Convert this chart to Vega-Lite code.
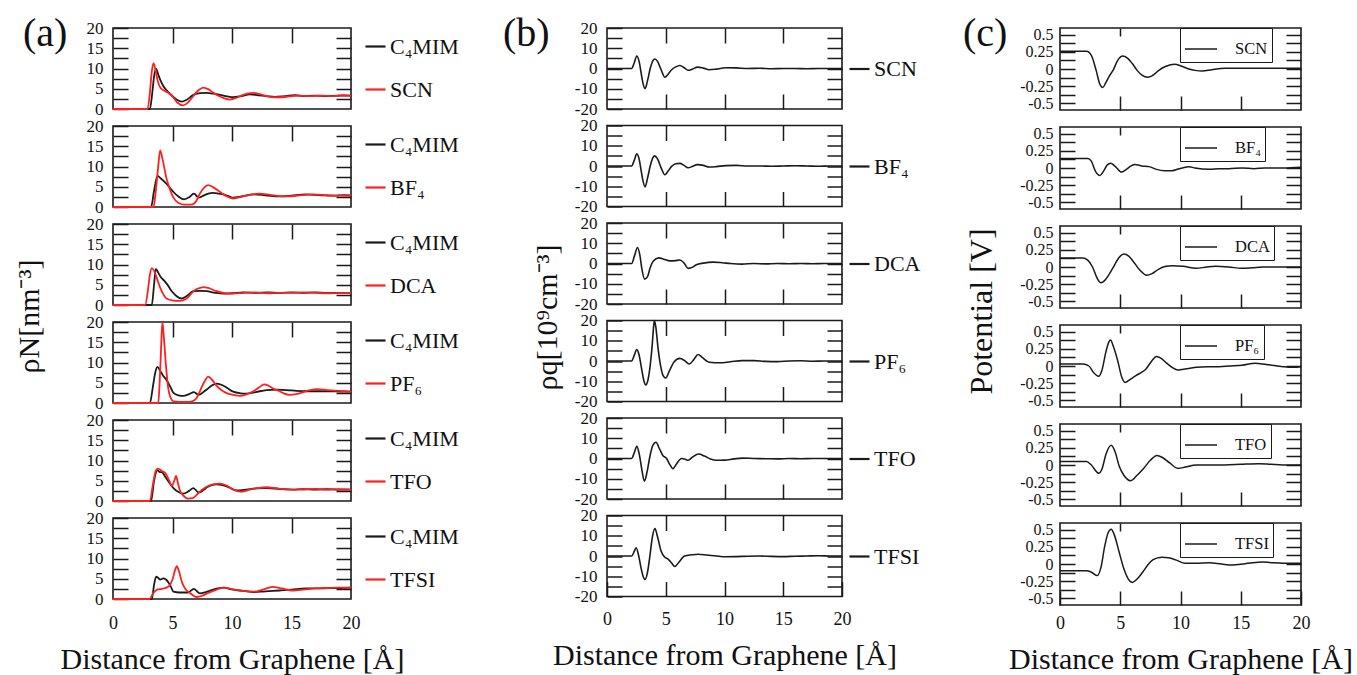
{
"$schema": "https://vega.github.io/schema/vega-lite/v6.json",
"padding": {"left": 13, "top": 13, "right": 0, "bottom": 0},
"datasets": {
"a": [
{"p":"SCN","k":"C₄MIM","x":0,"y":0},{"p":"SCN","k":"C₄MIM","x":3.1,"y":0},{"p":"SCN","k":"C₄MIM","x":3.3,"y":4},{"p":"SCN","k":"C₄MIM","x":3.45,"y":8},{"p":"SCN","k":"C₄MIM","x":3.63,"y":9.9},{"p":"SCN","k":"C₄MIM","x":3.8,"y":8.5},{"p":"SCN","k":"C₄MIM","x":4.0,"y":7.0},{"p":"SCN","k":"C₄MIM","x":4.24,"y":5.6},{"p":"SCN","k":"C₄MIM","x":4.6,"y":4.3},{"p":"SCN","k":"C₄MIM","x":5.08,"y":3.0},{"p":"SCN","k":"C₄MIM","x":5.4,"y":2.2},{"p":"SCN","k":"C₄MIM","x":5.77,"y":1.8},{"p":"SCN","k":"C₄MIM","x":6.2,"y":2.3},{"p":"SCN","k":"C₄MIM","x":6.75,"y":3.5},{"p":"SCN","k":"C₄MIM","x":7.3,"y":3.9},{"p":"SCN","k":"C₄MIM","x":7.87,"y":4.0},{"p":"SCN","k":"C₄MIM","x":8.4,"y":3.8},{"p":"SCN","k":"C₄MIM","x":9.0,"y":3.5},{"p":"SCN","k":"C₄MIM","x":9.6,"y":3.1},{"p":"SCN","k":"C₄MIM","x":10.1,"y":2.9},{"p":"SCN","k":"C₄MIM","x":10.8,"y":3.2},{"p":"SCN","k":"C₄MIM","x":11.5,"y":3.6},{"p":"SCN","k":"C₄MIM","x":12.2,"y":3.4},{"p":"SCN","k":"C₄MIM","x":12.9,"y":3.2},{"p":"SCN","k":"C₄MIM","x":13.6,"y":3.0},{"p":"SCN","k":"C₄MIM","x":14.5,"y":3.2},{"p":"SCN","k":"C₄MIM","x":15.3,"y":3.4},{"p":"SCN","k":"C₄MIM","x":16,"y":3.2},{"p":"SCN","k":"C₄MIM","x":17,"y":3.3},{"p":"SCN","k":"C₄MIM","x":18,"y":3.2},{"p":"SCN","k":"C₄MIM","x":19,"y":3.3},{"p":"SCN","k":"C₄MIM","x":20,"y":3.3},
{"p":"SCN","k":"SCN","x":0,"y":0},{"p":"SCN","k":"SCN","x":2.9,"y":0},{"p":"SCN","k":"SCN","x":3.1,"y":4},{"p":"SCN","k":"SCN","x":3.25,"y":9},{"p":"SCN","k":"SCN","x":3.4,"y":11.3},{"p":"SCN","k":"SCN","x":3.55,"y":10},{"p":"SCN","k":"SCN","x":3.75,"y":7},{"p":"SCN","k":"SCN","x":4.0,"y":5.2},{"p":"SCN","k":"SCN","x":4.4,"y":4.4},{"p":"SCN","k":"SCN","x":4.8,"y":3.7},{"p":"SCN","k":"SCN","x":5.08,"y":2.8},{"p":"SCN","k":"SCN","x":5.4,"y":1.6},{"p":"SCN","k":"SCN","x":5.9,"y":0.9},{"p":"SCN","k":"SCN","x":6.3,"y":1.6},{"p":"SCN","k":"SCN","x":6.75,"y":3.2},{"p":"SCN","k":"SCN","x":7.2,"y":4.7},{"p":"SCN","k":"SCN","x":7.6,"y":5.3},{"p":"SCN","k":"SCN","x":8.0,"y":4.9},{"p":"SCN","k":"SCN","x":8.4,"y":4.1},{"p":"SCN","k":"SCN","x":8.9,"y":3.2},{"p":"SCN","k":"SCN","x":9.3,"y":2.7},{"p":"SCN","k":"SCN","x":9.8,"y":2.3},{"p":"SCN","k":"SCN","x":10.3,"y":2.7},{"p":"SCN","k":"SCN","x":10.7,"y":3.2},{"p":"SCN","k":"SCN","x":11.3,"y":3.8},{"p":"SCN","k":"SCN","x":11.8,"y":4.0},{"p":"SCN","k":"SCN","x":12.4,"y":3.6},{"p":"SCN","k":"SCN","x":12.9,"y":3.2},{"p":"SCN","k":"SCN","x":13.5,"y":2.9},{"p":"SCN","k":"SCN","x":14,"y":2.9},{"p":"SCN","k":"SCN","x":14.8,"y":3.1},{"p":"SCN","k":"SCN","x":15.5,"y":3.3},{"p":"SCN","k":"SCN","x":16.5,"y":3.2},{"p":"SCN","k":"SCN","x":17.5,"y":3.3},{"p":"SCN","k":"SCN","x":18.5,"y":3.2},{"p":"SCN","k":"SCN","x":19.3,"y":3.4},{"p":"SCN","k":"SCN","x":20,"y":3.3},
{"p":"BF₄","k":"C₄MIM","x":0,"y":0},{"p":"BF₄","k":"C₄MIM","x":3.2,"y":0},{"p":"BF₄","k":"C₄MIM","x":3.45,"y":4},{"p":"BF₄","k":"C₄MIM","x":3.74,"y":7.7},{"p":"BF₄","k":"C₄MIM","x":4.0,"y":7.1},{"p":"BF₄","k":"C₄MIM","x":4.4,"y":6.0},{"p":"BF₄","k":"C₄MIM","x":4.8,"y":4.7},{"p":"BF₄","k":"C₄MIM","x":5.08,"y":3.7},{"p":"BF₄","k":"C₄MIM","x":5.5,"y":2.6},{"p":"BF₄","k":"C₄MIM","x":5.97,"y":1.9},{"p":"BF₄","k":"C₄MIM","x":6.4,"y":2.4},{"p":"BF₄","k":"C₄MIM","x":6.8,"y":3.3},{"p":"BF₄","k":"C₄MIM","x":7.2,"y":2.3},{"p":"BF₄","k":"C₄MIM","x":7.6,"y":2.8},{"p":"BF₄","k":"C₄MIM","x":8.0,"y":3.3},{"p":"BF₄","k":"C₄MIM","x":8.4,"y":3.5},{"p":"BF₄","k":"C₄MIM","x":8.9,"y":3.3},{"p":"BF₄","k":"C₄MIM","x":9.3,"y":3.1},{"p":"BF₄","k":"C₄MIM","x":9.7,"y":2.7},{"p":"BF₄","k":"C₄MIM","x":10.1,"y":2.3},{"p":"BF₄","k":"C₄MIM","x":10.8,"y":2.6},{"p":"BF₄","k":"C₄MIM","x":11.8,"y":3.1},{"p":"BF₄","k":"C₄MIM","x":12.8,"y":2.9},{"p":"BF₄","k":"C₄MIM","x":14,"y":2.6},{"p":"BF₄","k":"C₄MIM","x":15,"y":2.8},{"p":"BF₄","k":"C₄MIM","x":16.2,"y":3.1},{"p":"BF₄","k":"C₄MIM","x":17.5,"y":2.9},{"p":"BF₄","k":"C₄MIM","x":18.5,"y":2.8},{"p":"BF₄","k":"C₄MIM","x":19.5,"y":2.9},{"p":"BF₄","k":"C₄MIM","x":20,"y":2.8},
{"p":"BF₄","k":"BF₄","x":0,"y":0},{"p":"BF₄","k":"BF₄","x":3.4,"y":0},{"p":"BF₄","k":"BF₄","x":3.6,"y":4},{"p":"BF₄","k":"BF₄","x":3.8,"y":10},{"p":"BF₄","k":"BF₄","x":3.96,"y":14},{"p":"BF₄","k":"BF₄","x":4.15,"y":12},{"p":"BF₄","k":"BF₄","x":4.5,"y":7},{"p":"BF₄","k":"BF₄","x":4.8,"y":4.2},{"p":"BF₄","k":"BF₄","x":5.08,"y":2.3},{"p":"BF₄","k":"BF₄","x":5.5,"y":1.0},{"p":"BF₄","k":"BF₄","x":6.0,"y":0.6},{"p":"BF₄","k":"BF₄","x":6.6,"y":0.6},{"p":"BF₄","k":"BF₄","x":7.0,"y":1.5},{"p":"BF₄","k":"BF₄","x":7.3,"y":3.3},{"p":"BF₄","k":"BF₄","x":7.7,"y":4.9},{"p":"BF₄","k":"BF₄","x":8.0,"y":5.4},{"p":"BF₄","k":"BF₄","x":8.4,"y":4.9},{"p":"BF₄","k":"BF₄","x":9.0,"y":3.7},{"p":"BF₄","k":"BF₄","x":9.5,"y":2.7},{"p":"BF₄","k":"BF₄","x":10.1,"y":2.1},{"p":"BF₄","k":"BF₄","x":10.8,"y":2.5},{"p":"BF₄","k":"BF₄","x":11.5,"y":3.0},{"p":"BF₄","k":"BF₄","x":12.3,"y":3.3},{"p":"BF₄","k":"BF₄","x":13.2,"y":3.0},{"p":"BF₄","k":"BF₄","x":14,"y":2.7},{"p":"BF₄","k":"BF₄","x":14.6,"y":2.6},{"p":"BF₄","k":"BF₄","x":15.5,"y":2.8},{"p":"BF₄","k":"BF₄","x":16.8,"y":3.1},{"p":"BF₄","k":"BF₄","x":18,"y":2.9},{"p":"BF₄","k":"BF₄","x":19,"y":2.8},{"p":"BF₄","k":"BF₄","x":20,"y":2.9},
{"p":"DCA","k":"C₄MIM","x":0,"y":0},{"p":"DCA","k":"C₄MIM","x":3.26,"y":0},{"p":"DCA","k":"C₄MIM","x":3.45,"y":5},{"p":"DCA","k":"C₄MIM","x":3.6,"y":8.9},{"p":"DCA","k":"C₄MIM","x":3.8,"y":8.0},{"p":"DCA","k":"C₄MIM","x":4.0,"y":7.0},{"p":"DCA","k":"C₄MIM","x":4.24,"y":6.2},{"p":"DCA","k":"C₄MIM","x":4.6,"y":4.9},{"p":"DCA","k":"C₄MIM","x":4.94,"y":3.4},{"p":"DCA","k":"C₄MIM","x":5.3,"y":2.3},{"p":"DCA","k":"C₄MIM","x":5.77,"y":1.6},{"p":"DCA","k":"C₄MIM","x":6.2,"y":2.2},{"p":"DCA","k":"C₄MIM","x":6.75,"y":3.4},{"p":"DCA","k":"C₄MIM","x":7.3,"y":3.5},{"p":"DCA","k":"C₄MIM","x":7.87,"y":3.4},{"p":"DCA","k":"C₄MIM","x":8.6,"y":3.0},{"p":"DCA","k":"C₄MIM","x":9.3,"y":2.8},{"p":"DCA","k":"C₄MIM","x":10,"y":2.9},{"p":"DCA","k":"C₄MIM","x":11,"y":3.1},{"p":"DCA","k":"C₄MIM","x":12,"y":3.0},{"p":"DCA","k":"C₄MIM","x":13,"y":3.1},{"p":"DCA","k":"C₄MIM","x":14,"y":3.0},{"p":"DCA","k":"C₄MIM","x":15,"y":3.1},{"p":"DCA","k":"C₄MIM","x":16,"y":3.0},{"p":"DCA","k":"C₄MIM","x":17,"y":3.1},{"p":"DCA","k":"C₄MIM","x":18,"y":3.0},{"p":"DCA","k":"C₄MIM","x":19,"y":3.0},{"p":"DCA","k":"C₄MIM","x":20,"y":3.0},
{"p":"DCA","k":"DCA","x":0,"y":0},{"p":"DCA","k":"DCA","x":2.7,"y":0},{"p":"DCA","k":"DCA","x":2.95,"y":4},{"p":"DCA","k":"DCA","x":3.1,"y":7.5},{"p":"DCA","k":"DCA","x":3.26,"y":9.1},{"p":"DCA","k":"DCA","x":3.45,"y":8.5},{"p":"DCA","k":"DCA","x":3.7,"y":6.5},{"p":"DCA","k":"DCA","x":3.96,"y":4.3},{"p":"DCA","k":"DCA","x":4.2,"y":2.8},{"p":"DCA","k":"DCA","x":4.5,"y":1.6},{"p":"DCA","k":"DCA","x":5.08,"y":1.1},{"p":"DCA","k":"DCA","x":5.6,"y":1.0},{"p":"DCA","k":"DCA","x":6.2,"y":1.6},{"p":"DCA","k":"DCA","x":6.6,"y":2.9},{"p":"DCA","k":"DCA","x":6.9,"y":3.7},{"p":"DCA","k":"DCA","x":7.3,"y":4.2},{"p":"DCA","k":"DCA","x":7.6,"y":4.4},{"p":"DCA","k":"DCA","x":8.0,"y":4.2},{"p":"DCA","k":"DCA","x":8.7,"y":3.4},{"p":"DCA","k":"DCA","x":9.4,"y":2.9},{"p":"DCA","k":"DCA","x":10.1,"y":2.8},{"p":"DCA","k":"DCA","x":11,"y":3.0},{"p":"DCA","k":"DCA","x":12,"y":3.1},{"p":"DCA","k":"DCA","x":13,"y":2.9},{"p":"DCA","k":"DCA","x":14,"y":3.0},{"p":"DCA","k":"DCA","x":15,"y":3.0},{"p":"DCA","k":"DCA","x":16,"y":3.1},{"p":"DCA","k":"DCA","x":17,"y":3.0},{"p":"DCA","k":"DCA","x":18,"y":2.9},{"p":"DCA","k":"DCA","x":19,"y":3.0},{"p":"DCA","k":"DCA","x":20,"y":3.0},
{"p":"PF₆","k":"C₄MIM","x":0,"y":0},{"p":"PF₆","k":"C₄MIM","x":3.1,"y":0},{"p":"PF₆","k":"C₄MIM","x":3.35,"y":4},{"p":"PF₆","k":"C₄MIM","x":3.55,"y":7.5},{"p":"PF₆","k":"C₄MIM","x":3.74,"y":8.9},{"p":"PF₆","k":"C₄MIM","x":3.95,"y":8},{"p":"PF₆","k":"C₄MIM","x":4.2,"y":6.8},{"p":"PF₆","k":"C₄MIM","x":4.5,"y":5.7},{"p":"PF₆","k":"C₄MIM","x":4.8,"y":4.1},{"p":"PF₆","k":"C₄MIM","x":5.08,"y":2.5},{"p":"PF₆","k":"C₄MIM","x":5.5,"y":1.9},{"p":"PF₆","k":"C₄MIM","x":5.9,"y":1.75},{"p":"PF₆","k":"C₄MIM","x":6.4,"y":2.2},{"p":"PF₆","k":"C₄MIM","x":6.8,"y":2.7},{"p":"PF₆","k":"C₄MIM","x":7.2,"y":2.0},{"p":"PF₆","k":"C₄MIM","x":7.6,"y":2.7},{"p":"PF₆","k":"C₄MIM","x":7.9,"y":3.4},{"p":"PF₆","k":"C₄MIM","x":8.3,"y":4.3},{"p":"PF₆","k":"C₄MIM","x":8.7,"y":4.8},{"p":"PF₆","k":"C₄MIM","x":9.1,"y":4.5},{"p":"PF₆","k":"C₄MIM","x":9.5,"y":3.9},{"p":"PF₆","k":"C₄MIM","x":10.1,"y":2.8},{"p":"PF₆","k":"C₄MIM","x":10.7,"y":2.4},{"p":"PF₆","k":"C₄MIM","x":11.2,"y":2.3},{"p":"PF₆","k":"C₄MIM","x":12,"y":2.7},{"p":"PF₆","k":"C₄MIM","x":12.9,"y":3.2},{"p":"PF₆","k":"C₄MIM","x":13.8,"y":3.3},{"p":"PF₆","k":"C₄MIM","x":14.6,"y":3.2},{"p":"PF₆","k":"C₄MIM","x":15.4,"y":3.0},{"p":"PF₆","k":"C₄MIM","x":16.2,"y":2.9},{"p":"PF₆","k":"C₄MIM","x":17.2,"y":2.9},{"p":"PF₆","k":"C₄MIM","x":18.2,"y":2.9},{"p":"PF₆","k":"C₄MIM","x":19.2,"y":2.8},{"p":"PF₆","k":"C₄MIM","x":20,"y":2.8},
{"p":"PF₆","k":"PF₆","x":0,"y":0},{"p":"PF₆","k":"PF₆","x":3.8,"y":0},{"p":"PF₆","k":"PF₆","x":3.92,"y":5},{"p":"PF₆","k":"PF₆","x":4.02,"y":12},{"p":"PF₆","k":"PF₆","x":4.15,"y":20},{"p":"PF₆","k":"PF₆","x":4.28,"y":16},{"p":"PF₆","k":"PF₆","x":4.46,"y":8.9},{"p":"PF₆","k":"PF₆","x":4.65,"y":3.5},{"p":"PF₆","k":"PF₆","x":4.8,"y":1.6},{"p":"PF₆","k":"PF₆","x":5.1,"y":0.4},{"p":"PF₆","k":"PF₆","x":5.6,"y":0.3},{"p":"PF₆","k":"PF₆","x":6.4,"y":0.3},{"p":"PF₆","k":"PF₆","x":6.9,"y":0.8},{"p":"PF₆","k":"PF₆","x":7.2,"y":2.2},{"p":"PF₆","k":"PF₆","x":7.45,"y":3.9},{"p":"PF₆","k":"PF₆","x":7.75,"y":5.6},{"p":"PF₆","k":"PF₆","x":8.0,"y":6.5},{"p":"PF₆","k":"PF₆","x":8.3,"y":5.8},{"p":"PF₆","k":"PF₆","x":8.7,"y":4.3},{"p":"PF₆","k":"PF₆","x":9.1,"y":3.2},{"p":"PF₆","k":"PF₆","x":9.5,"y":2.5},{"p":"PF₆","k":"PF₆","x":10.1,"y":2.0},{"p":"PF₆","k":"PF₆","x":10.7,"y":1.75},{"p":"PF₆","k":"PF₆","x":11.2,"y":2.1},{"p":"PF₆","k":"PF₆","x":11.8,"y":2.9},{"p":"PF₆","k":"PF₆","x":12.3,"y":3.9},{"p":"PF₆","k":"PF₆","x":12.7,"y":4.6},{"p":"PF₆","k":"PF₆","x":13.1,"y":4.2},{"p":"PF₆","k":"PF₆","x":13.5,"y":3.5},{"p":"PF₆","k":"PF₆","x":14,"y":2.9},{"p":"PF₆","k":"PF₆","x":14.4,"y":2.3},{"p":"PF₆","k":"PF₆","x":14.8,"y":2.0},{"p":"PF₆","k":"PF₆","x":15.4,"y":2.2},{"p":"PF₆","k":"PF₆","x":16.2,"y":2.9},{"p":"PF₆","k":"PF₆","x":17.1,"y":3.4},{"p":"PF₆","k":"PF₆","x":18,"y":3.2},{"p":"PF₆","k":"PF₆","x":19,"y":3.0},{"p":"PF₆","k":"PF₆","x":20,"y":2.8},
{"p":"TFO","k":"C₄MIM","x":0,"y":0},{"p":"TFO","k":"C₄MIM","x":3.2,"y":0},{"p":"TFO","k":"C₄MIM","x":3.45,"y":5},{"p":"TFO","k":"C₄MIM","x":3.74,"y":7.6},{"p":"TFO","k":"C₄MIM","x":3.9,"y":7.2},{"p":"TFO","k":"C₄MIM","x":4.1,"y":7.1},{"p":"TFO","k":"C₄MIM","x":4.5,"y":5.5},{"p":"TFO","k":"C₄MIM","x":5.08,"y":3.2},{"p":"TFO","k":"C₄MIM","x":5.5,"y":2.2},{"p":"TFO","k":"C₄MIM","x":5.9,"y":1.8},{"p":"TFO","k":"C₄MIM","x":6.4,"y":2.5},{"p":"TFO","k":"C₄MIM","x":6.75,"y":3.2},{"p":"TFO","k":"C₄MIM","x":7.2,"y":2.1},{"p":"TFO","k":"C₄MIM","x":7.6,"y":2.7},{"p":"TFO","k":"C₄MIM","x":7.9,"y":3.4},{"p":"TFO","k":"C₄MIM","x":8.3,"y":3.9},{"p":"TFO","k":"C₄MIM","x":8.7,"y":4.1},{"p":"TFO","k":"C₄MIM","x":9.1,"y":4.0},{"p":"TFO","k":"C₄MIM","x":9.5,"y":3.7},{"p":"TFO","k":"C₄MIM","x":10.4,"y":2.6},{"p":"TFO","k":"C₄MIM","x":11.2,"y":2.8},{"p":"TFO","k":"C₄MIM","x":12,"y":3.1},{"p":"TFO","k":"C₄MIM","x":12.9,"y":3.2},{"p":"TFO","k":"C₄MIM","x":14,"y":3.0},{"p":"TFO","k":"C₄MIM","x":15.1,"y":2.8},{"p":"TFO","k":"C₄MIM","x":16,"y":2.9},{"p":"TFO","k":"C₄MIM","x":17,"y":2.8},{"p":"TFO","k":"C₄MIM","x":18,"y":2.9},{"p":"TFO","k":"C₄MIM","x":19,"y":2.8},{"p":"TFO","k":"C₄MIM","x":20,"y":2.8},
{"p":"TFO","k":"TFO","x":0,"y":0},{"p":"TFO","k":"TFO","x":3.1,"y":0},{"p":"TFO","k":"TFO","x":3.35,"y":4},{"p":"TFO","k":"TFO","x":3.6,"y":7.5},{"p":"TFO","k":"TFO","x":3.8,"y":8.0},{"p":"TFO","k":"TFO","x":4.1,"y":7.4},{"p":"TFO","k":"TFO","x":4.4,"y":6.9},{"p":"TFO","k":"TFO","x":4.7,"y":5.2},{"p":"TFO","k":"TFO","x":4.94,"y":3.7},{"p":"TFO","k":"TFO","x":5.15,"y":5.0},{"p":"TFO","k":"TFO","x":5.3,"y":6.2},{"p":"TFO","k":"TFO","x":5.45,"y":4.5},{"p":"TFO","k":"TFO","x":5.6,"y":2.8},{"p":"TFO","k":"TFO","x":5.9,"y":1.4},{"p":"TFO","k":"TFO","x":6.3,"y":0.6},{"p":"TFO","k":"TFO","x":6.7,"y":0.7},{"p":"TFO","k":"TFO","x":7.0,"y":1.4},{"p":"TFO","k":"TFO","x":7.3,"y":2.3},{"p":"TFO","k":"TFO","x":7.8,"y":3.4},{"p":"TFO","k":"TFO","x":8.4,"y":4.1},{"p":"TFO","k":"TFO","x":9.0,"y":4.3},{"p":"TFO","k":"TFO","x":9.5,"y":3.9},{"p":"TFO","k":"TFO","x":10.1,"y":2.8},{"p":"TFO","k":"TFO","x":10.7,"y":2.3},{"p":"TFO","k":"TFO","x":11.5,"y":2.8},{"p":"TFO","k":"TFO","x":12.2,"y":3.2},{"p":"TFO","k":"TFO","x":12.9,"y":3.4},{"p":"TFO","k":"TFO","x":13.8,"y":3.1},{"p":"TFO","k":"TFO","x":15.1,"y":2.8},{"p":"TFO","k":"TFO","x":16,"y":2.9},{"p":"TFO","k":"TFO","x":17,"y":3.0},{"p":"TFO","k":"TFO","x":18,"y":2.8},{"p":"TFO","k":"TFO","x":19,"y":2.9},{"p":"TFO","k":"TFO","x":20,"y":2.8},
{"p":"TFSI","k":"C₄MIM","x":0,"y":0},{"p":"TFSI","k":"C₄MIM","x":3.26,"y":0},{"p":"TFSI","k":"C₄MIM","x":3.45,"y":3.5},{"p":"TFSI","k":"C₄MIM","x":3.63,"y":5.5},{"p":"TFSI","k":"C₄MIM","x":3.8,"y":5.2},{"p":"TFSI","k":"C₄MIM","x":3.96,"y":4.8},{"p":"TFSI","k":"C₄MIM","x":4.24,"y":5.1},{"p":"TFSI","k":"C₄MIM","x":4.45,"y":4.8},{"p":"TFSI","k":"C₄MIM","x":4.66,"y":4.1},{"p":"TFSI","k":"C₄MIM","x":4.9,"y":2.8},{"p":"TFSI","k":"C₄MIM","x":5.08,"y":1.8},{"p":"TFSI","k":"C₄MIM","x":5.6,"y":1.6},{"p":"TFSI","k":"C₄MIM","x":6.3,"y":1.6},{"p":"TFSI","k":"C₄MIM","x":6.8,"y":2.5},{"p":"TFSI","k":"C₄MIM","x":7.3,"y":1.4},{"p":"TFSI","k":"C₄MIM","x":7.8,"y":1.7},{"p":"TFSI","k":"C₄MIM","x":8.4,"y":2.3},{"p":"TFSI","k":"C₄MIM","x":9.3,"y":2.8},{"p":"TFSI","k":"C₄MIM","x":10.1,"y":2.3},{"p":"TFSI","k":"C₄MIM","x":11,"y":2.0},{"p":"TFSI","k":"C₄MIM","x":11.8,"y":1.7},{"p":"TFSI","k":"C₄MIM","x":12.8,"y":1.9},{"p":"TFSI","k":"C₄MIM","x":14,"y":2.1},{"p":"TFSI","k":"C₄MIM","x":15,"y":2.3},{"p":"TFSI","k":"C₄MIM","x":16.2,"y":2.6},{"p":"TFSI","k":"C₄MIM","x":17.2,"y":2.6},{"p":"TFSI","k":"C₄MIM","x":18.2,"y":2.7},{"p":"TFSI","k":"C₄MIM","x":19.2,"y":2.7},{"p":"TFSI","k":"C₄MIM","x":20,"y":2.8},
{"p":"TFSI","k":"TFSI","x":0,"y":0},{"p":"TFSI","k":"TFSI","x":3.07,"y":0},{"p":"TFSI","k":"TFSI","x":3.4,"y":1.5},{"p":"TFSI","k":"TFSI","x":3.7,"y":2.3},{"p":"TFSI","k":"TFSI","x":4.1,"y":2.5},{"p":"TFSI","k":"TFSI","x":4.5,"y":2.8},{"p":"TFSI","k":"TFSI","x":4.8,"y":3.5},{"p":"TFSI","k":"TFSI","x":5.0,"y":4.8},{"p":"TFSI","k":"TFSI","x":5.2,"y":7.0},{"p":"TFSI","k":"TFSI","x":5.36,"y":8.1},{"p":"TFSI","k":"TFSI","x":5.55,"y":6.8},{"p":"TFSI","k":"TFSI","x":5.8,"y":4.1},{"p":"TFSI","k":"TFSI","x":6.1,"y":2.4},{"p":"TFSI","k":"TFSI","x":6.5,"y":1.4},{"p":"TFSI","k":"TFSI","x":7.0,"y":0.5},{"p":"TFSI","k":"TFSI","x":7.5,"y":0.8},{"p":"TFSI","k":"TFSI","x":7.9,"y":1.4},{"p":"TFSI","k":"TFSI","x":8.6,"y":2.2},{"p":"TFSI","k":"TFSI","x":9.3,"y":2.8},{"p":"TFSI","k":"TFSI","x":10.1,"y":2.4},{"p":"TFSI","k":"TFSI","x":10.9,"y":2.0},{"p":"TFSI","k":"TFSI","x":11.8,"y":1.8},{"p":"TFSI","k":"TFSI","x":12.6,"y":2.3},{"p":"TFSI","k":"TFSI","x":13.4,"y":3.0},{"p":"TFSI","k":"TFSI","x":14.2,"y":2.6},{"p":"TFSI","k":"TFSI","x":15.1,"y":2.1},{"p":"TFSI","k":"TFSI","x":16,"y":2.3},{"p":"TFSI","k":"TFSI","x":17,"y":2.6},{"p":"TFSI","k":"TFSI","x":18,"y":2.7},{"p":"TFSI","k":"TFSI","x":19,"y":2.8},{"p":"TFSI","k":"TFSI","x":20,"y":2.8}
],
"q": [
{"p":"SCN","x":0,"y":0},{"p":"SCN","x":2.1,"y":0},{"p":"SCN","x":2.3,"y":2.5},{"p":"SCN","x":2.54,"y":6.2},{"p":"SCN","x":2.75,"y":3},{"p":"SCN","x":2.9,"y":-2},{"p":"SCN","x":3.05,"y":-7},{"p":"SCN","x":3.24,"y":-10},{"p":"SCN","x":3.45,"y":-6},{"p":"SCN","x":3.7,"y":0.5},{"p":"SCN","x":3.9,"y":3.8},{"p":"SCN","x":4.08,"y":4.7},{"p":"SCN","x":4.3,"y":3.5},{"p":"SCN","x":4.6,"y":-0.5},{"p":"SCN","x":4.93,"y":-4.3},{"p":"SCN","x":5.2,"y":-2.8},{"p":"SCN","x":5.5,"y":-0.6},{"p":"SCN","x":5.85,"y":0.8},{"p":"SCN","x":6.2,"y":1.5},{"p":"SCN","x":6.55,"y":0.5},{"p":"SCN","x":6.9,"y":-0.9},{"p":"SCN","x":7.3,"y":-0.2},{"p":"SCN","x":7.7,"y":0.7},{"p":"SCN","x":8.2,"y":0.2},{"p":"SCN","x":8.7,"y":-0.6},{"p":"SCN","x":9.3,"y":-0.3},{"p":"SCN","x":10.1,"y":0.4},{"p":"SCN","x":11,"y":0.3},{"p":"SCN","x":12,"y":0},{"p":"SCN","x":13,"y":0.1},{"p":"SCN","x":14,"y":-0.1},{"p":"SCN","x":15,"y":0},{"p":"SCN","x":16,"y":0},{"p":"SCN","x":17,"y":-0.1},{"p":"SCN","x":18,"y":0},{"p":"SCN","x":19,"y":0},{"p":"SCN","x":20,"y":0},
{"p":"BF₄","x":0,"y":0},{"p":"BF₄","x":2.1,"y":0},{"p":"BF₄","x":2.3,"y":2.5},{"p":"BF₄","x":2.54,"y":6.0},{"p":"BF₄","x":2.75,"y":3},{"p":"BF₄","x":2.9,"y":-2},{"p":"BF₄","x":3.05,"y":-7},{"p":"BF₄","x":3.24,"y":-10.3},{"p":"BF₄","x":3.45,"y":-6},{"p":"BF₄","x":3.7,"y":0.5},{"p":"BF₄","x":3.9,"y":4},{"p":"BF₄","x":4.05,"y":5.0},{"p":"BF₄","x":4.3,"y":3.5},{"p":"BF₄","x":4.6,"y":-0.8},{"p":"BF₄","x":4.93,"y":-4.3},{"p":"BF₄","x":5.2,"y":-2.5},{"p":"BF₄","x":5.5,"y":-0.2},{"p":"BF₄","x":5.85,"y":1.1},{"p":"BF₄","x":6.2,"y":1.3},{"p":"BF₄","x":6.55,"y":0.3},{"p":"BF₄","x":6.9,"y":-0.9},{"p":"BF₄","x":7.3,"y":-0.1},{"p":"BF₄","x":7.7,"y":0.7},{"p":"BF₄","x":8.2,"y":0.3},{"p":"BF₄","x":8.7,"y":-0.5},{"p":"BF₄","x":9.3,"y":-0.3},{"p":"BF₄","x":10.1,"y":0.2},{"p":"BF₄","x":11,"y":0.3},{"p":"BF₄","x":12,"y":0},{"p":"BF₄","x":13,"y":0},{"p":"BF₄","x":14,"y":-0.1},{"p":"BF₄","x":15,"y":0},{"p":"BF₄","x":16,"y":0.1},{"p":"BF₄","x":17,"y":0},{"p":"BF₄","x":18,"y":-0.1},{"p":"BF₄","x":19,"y":0},{"p":"BF₄","x":20,"y":0},
{"p":"DCA","x":0,"y":0},{"p":"DCA","x":2.1,"y":0},{"p":"DCA","x":2.35,"y":4},{"p":"DCA","x":2.6,"y":7.9},{"p":"DCA","x":2.8,"y":4},{"p":"DCA","x":2.95,"y":-2},{"p":"DCA","x":3.2,"y":-7.7},{"p":"DCA","x":3.45,"y":-6.5},{"p":"DCA","x":3.66,"y":-2.4},{"p":"DCA","x":3.95,"y":1.2},{"p":"DCA","x":4.4,"y":2.8},{"p":"DCA","x":4.9,"y":2.0},{"p":"DCA","x":5.35,"y":1.3},{"p":"DCA","x":5.8,"y":1.4},{"p":"DCA","x":6.2,"y":1.7},{"p":"DCA","x":6.55,"y":0.3},{"p":"DCA","x":6.9,"y":-2.4},{"p":"DCA","x":7.3,"y":-1.8},{"p":"DCA","x":7.6,"y":-0.6},{"p":"DCA","x":8.2,"y":0.2},{"p":"DCA","x":9.0,"y":0.7},{"p":"DCA","x":9.8,"y":0.4},{"p":"DCA","x":10.5,"y":0},{"p":"DCA","x":11.5,"y":-0.3},{"p":"DCA","x":12.5,"y":0},{"p":"DCA","x":13.5,"y":-0.2},{"p":"DCA","x":14.5,"y":0},{"p":"DCA","x":15.5,"y":-0.1},{"p":"DCA","x":16.5,"y":0},{"p":"DCA","x":17.5,"y":-0.1},{"p":"DCA","x":18.5,"y":0},{"p":"DCA","x":20,"y":0},
{"p":"PF₆","x":0,"y":0},{"p":"PF₆","x":2.1,"y":0},{"p":"PF₆","x":2.3,"y":2.5},{"p":"PF₆","x":2.54,"y":5.6},{"p":"PF₆","x":2.75,"y":2.5},{"p":"PF₆","x":2.95,"y":-4},{"p":"PF₆","x":3.15,"y":-10},{"p":"PF₆","x":3.3,"y":-11.8},{"p":"PF₆","x":3.5,"y":-9},{"p":"PF₆","x":3.7,"y":-1},{"p":"PF₆","x":3.85,"y":8},{"p":"PF₆","x":3.95,"y":16},{"p":"PF₆","x":4.03,"y":20},{"p":"PF₆","x":4.15,"y":17},{"p":"PF₆","x":4.35,"y":6},{"p":"PF₆","x":4.6,"y":-3.5},{"p":"PF₆","x":4.8,"y":-7.5},{"p":"PF₆","x":5.0,"y":-8.4},{"p":"PF₆","x":5.3,"y":-5},{"p":"PF₆","x":5.7,"y":-0.5},{"p":"PF₆","x":6.2,"y":1.3},{"p":"PF₆","x":6.6,"y":0.2},{"p":"PF₆","x":7.0,"y":-1.5},{"p":"PF₆","x":7.4,"y":0.8},{"p":"PF₆","x":7.75,"y":3.2},{"p":"PF₆","x":8.1,"y":1.8},{"p":"PF₆","x":8.7,"y":-0.6},{"p":"PF₆","x":9.6,"y":-0.9},{"p":"PF₆","x":10.5,"y":-0.4},{"p":"PF₆","x":11.5,"y":0.2},{"p":"PF₆","x":12.5,"y":0.2},{"p":"PF₆","x":13.5,"y":-0.2},{"p":"PF₆","x":14.5,"y":-0.3},{"p":"PF₆","x":15.5,"y":0},{"p":"PF₆","x":16.5,"y":0.1},{"p":"PF₆","x":17.5,"y":-0.1},{"p":"PF₆","x":18.5,"y":0},{"p":"PF₆","x":20,"y":0},
{"p":"TFO","x":0,"y":0},{"p":"TFO","x":2.1,"y":0},{"p":"TFO","x":2.3,"y":2.5},{"p":"TFO","x":2.54,"y":6},{"p":"TFO","x":2.75,"y":2},{"p":"TFO","x":2.95,"y":-5},{"p":"TFO","x":3.18,"y":-11.2},{"p":"TFO","x":3.4,"y":-7},{"p":"TFO","x":3.65,"y":1},{"p":"TFO","x":3.9,"y":6.5},{"p":"TFO","x":4.17,"y":8},{"p":"TFO","x":4.45,"y":5},{"p":"TFO","x":4.75,"y":1.5},{"p":"TFO","x":5.07,"y":0},{"p":"TFO","x":5.35,"y":-3},{"p":"TFO","x":5.6,"y":-5},{"p":"TFO","x":5.9,"y":-2.8},{"p":"TFO","x":6.34,"y":0},{"p":"TFO","x":6.6,"y":-0.2},{"p":"TFO","x":6.9,"y":-0.9},{"p":"TFO","x":7.3,"y":0.8},{"p":"TFO","x":7.8,"y":2.2},{"p":"TFO","x":8.3,"y":1.2},{"p":"TFO","x":8.8,"y":-0.2},{"p":"TFO","x":9.3,"y":-0.9},{"p":"TFO","x":10,"y":-0.8},{"p":"TFO","x":10.8,"y":-0.2},{"p":"TFO","x":11.5,"y":0.2},{"p":"TFO","x":12.5,"y":0},{"p":"TFO","x":13.5,"y":-0.1},{"p":"TFO","x":14.5,"y":-0.2},{"p":"TFO","x":15.5,"y":0},{"p":"TFO","x":16.5,"y":-0.1},{"p":"TFO","x":17.5,"y":0},{"p":"TFO","x":18.5,"y":0},{"p":"TFO","x":20,"y":0},
{"p":"TFSI","x":0,"y":0},{"p":"TFSI","x":2.1,"y":0},{"p":"TFSI","x":2.3,"y":2},{"p":"TFSI","x":2.48,"y":4.1},{"p":"TFSI","x":2.7,"y":0},{"p":"TFSI","x":2.9,"y":-6},{"p":"TFSI","x":3.1,"y":-10.5},{"p":"TFSI","x":3.24,"y":-11.6},{"p":"TFSI","x":3.45,"y":-8},{"p":"TFSI","x":3.65,"y":0},{"p":"TFSI","x":3.85,"y":9},{"p":"TFSI","x":4.08,"y":13.5},{"p":"TFSI","x":4.3,"y":9.5},{"p":"TFSI","x":4.6,"y":2.5},{"p":"TFSI","x":4.9,"y":-0.5},{"p":"TFSI","x":5.2,"y":-1.5},{"p":"TFSI","x":5.5,"y":-3.5},{"p":"TFSI","x":5.77,"y":-5.2},{"p":"TFSI","x":6.1,"y":-3.2},{"p":"TFSI","x":6.6,"y":0},{"p":"TFSI","x":7.2,"y":0.6},{"p":"TFSI","x":7.75,"y":0.9},{"p":"TFSI","x":8.5,"y":0.5},{"p":"TFSI","x":9.3,"y":0},{"p":"TFSI","x":10.1,"y":-0.4},{"p":"TFSI","x":11,"y":-0.3},{"p":"TFSI","x":12,"y":-0.1},{"p":"TFSI","x":13,"y":0},{"p":"TFSI","x":14,"y":-0.2},{"p":"TFSI","x":15,"y":-0.3},{"p":"TFSI","x":16,"y":-0.1},{"p":"TFSI","x":17,"y":0},{"p":"TFSI","x":18,"y":0.1},{"p":"TFSI","x":19,"y":0},{"p":"TFSI","x":20,"y":0}
],
"v": [
{"p":"SCN","x":0,"y":0.26},{"p":"SCN","x":2.2,"y":0.26},{"p":"SCN","x":2.6,"y":0.2},{"p":"SCN","x":3.0,"y":-0.02},{"p":"SCN","x":3.3,"y":-0.22},{"p":"SCN","x":3.55,"y":-0.27},{"p":"SCN","x":3.8,"y":-0.2},{"p":"SCN","x":4.1,"y":-0.1},{"p":"SCN","x":4.4,"y":-0.02},{"p":"SCN","x":4.8,"y":0.13},{"p":"SCN","x":5.2,"y":0.19},{"p":"SCN","x":5.6,"y":0.16},{"p":"SCN","x":6.0,"y":0.08},{"p":"SCN","x":6.4,"y":-0.02},{"p":"SCN","x":6.8,"y":-0.09},{"p":"SCN","x":7.3,"y":-0.12},{"p":"SCN","x":7.8,"y":-0.08},{"p":"SCN","x":8.2,"y":-0.02},{"p":"SCN","x":8.8,"y":0.04},{"p":"SCN","x":9.5,"y":0.07},{"p":"SCN","x":10.1,"y":0.04},{"p":"SCN","x":10.7,"y":0.0},{"p":"SCN","x":11.2,"y":-0.02},{"p":"SCN","x":11.8,"y":-0.03},{"p":"SCN","x":12.6,"y":-0.01},{"p":"SCN","x":13.7,"y":0.01},{"p":"SCN","x":15,"y":0.01},{"p":"SCN","x":16,"y":0.01},{"p":"SCN","x":17,"y":0.01},{"p":"SCN","x":18,"y":0.01},{"p":"SCN","x":19,"y":0.01},{"p":"SCN","x":20,"y":0.01},
{"p":"BF₄","x":0,"y":0.14},{"p":"BF₄","x":2.3,"y":0.14},{"p":"BF₄","x":2.6,"y":0.1},{"p":"BF₄","x":2.95,"y":-0.05},{"p":"BF₄","x":3.3,"y":-0.11},{"p":"BF₄","x":3.6,"y":-0.05},{"p":"BF₄","x":3.9,"y":0.04},{"p":"BF₄","x":4.2,"y":0.07},{"p":"BF₄","x":4.6,"y":0.02},{"p":"BF₄","x":5.1,"y":-0.06},{"p":"BF₄","x":5.5,"y":-0.02},{"p":"BF₄","x":5.9,"y":0.03},{"p":"BF₄","x":6.2,"y":0.05},{"p":"BF₄","x":6.8,"y":0.03},{"p":"BF₄","x":7.4,"y":0.02},{"p":"BF₄","x":8,"y":-0.02},{"p":"BF₄","x":8.65,"y":-0.04},{"p":"BF₄","x":9.3,"y":-0.04},{"p":"BF₄","x":9.9,"y":-0.01},{"p":"BF₄","x":10.4,"y":0.01},{"p":"BF₄","x":10.7,"y":0.02},{"p":"BF₄","x":11.2,"y":0.0},{"p":"BF₄","x":12.4,"y":-0.02},{"p":"BF₄","x":13.2,"y":-0.01},{"p":"BF₄","x":14,"y":-0.01},{"p":"BF₄","x":15.1,"y":0},{"p":"BF₄","x":16.1,"y":-0.01},{"p":"BF₄","x":17,"y":0},{"p":"BF₄","x":18.5,"y":0},{"p":"BF₄","x":20,"y":0.01},
{"p":"DCA","x":0,"y":0.13},{"p":"DCA","x":1.9,"y":0.13},{"p":"DCA","x":2.3,"y":0.1},{"p":"DCA","x":2.7,"y":0.0},{"p":"DCA","x":3.1,"y":-0.17},{"p":"DCA","x":3.4,"y":-0.23},{"p":"DCA","x":3.7,"y":-0.2},{"p":"DCA","x":4.1,"y":-0.1},{"p":"DCA","x":4.5,"y":0.02},{"p":"DCA","x":4.9,"y":0.14},{"p":"DCA","x":5.3,"y":0.19},{"p":"DCA","x":5.7,"y":0.16},{"p":"DCA","x":6.0,"y":0.1},{"p":"DCA","x":6.6,"y":-0.04},{"p":"DCA","x":7.2,"y":-0.12},{"p":"DCA","x":7.6,"y":-0.1},{"p":"DCA","x":8.2,"y":-0.03},{"p":"DCA","x":8.8,"y":0.01},{"p":"DCA","x":9.3,"y":0.02},{"p":"DCA","x":10.2,"y":0.01},{"p":"DCA","x":11.3,"y":-0.02},{"p":"DCA","x":12.2,"y":0.0},{"p":"DCA","x":12.9,"y":0.01},{"p":"DCA","x":14,"y":0.0},{"p":"DCA","x":15.1,"y":-0.02},{"p":"DCA","x":16,"y":-0.01},{"p":"DCA","x":16.8,"y":0},{"p":"DCA","x":18,"y":0},{"p":"DCA","x":19,"y":0},{"p":"DCA","x":20,"y":0},
{"p":"PF₆","x":0,"y":0.03},{"p":"PF₆","x":1.9,"y":0.03},{"p":"PF₆","x":2.4,"y":0.0},{"p":"PF₆","x":2.8,"y":-0.1},{"p":"PF₆","x":3.2,"y":-0.15},{"p":"PF₆","x":3.5,"y":-0.05},{"p":"PF₆","x":3.8,"y":0.2},{"p":"PF₆","x":4.05,"y":0.35},{"p":"PF₆","x":4.2,"y":0.38},{"p":"PF₆","x":4.4,"y":0.3},{"p":"PF₆","x":4.8,"y":0.07},{"p":"PF₆","x":5.1,"y":-0.15},{"p":"PF₆","x":5.4,"y":-0.24},{"p":"PF₆","x":5.8,"y":-0.2},{"p":"PF₆","x":6.3,"y":-0.14},{"p":"PF₆","x":6.7,"y":-0.1},{"p":"PF₆","x":7.1,"y":-0.05},{"p":"PF₆","x":7.6,"y":0.07},{"p":"PF₆","x":8.0,"y":0.14},{"p":"PF₆","x":8.4,"y":0.11},{"p":"PF₆","x":8.8,"y":0.05},{"p":"PF₆","x":9.3,"y":-0.02},{"p":"PF₆","x":9.8,"y":-0.06},{"p":"PF₆","x":10.5,"y":-0.04},{"p":"PF₆","x":11.3,"y":-0.02},{"p":"PF₆","x":12.2,"y":-0.01},{"p":"PF₆","x":13.2,"y":-0.01},{"p":"PF₆","x":14.1,"y":0},{"p":"PF₆","x":15.1,"y":0.01},{"p":"PF₆","x":16.2,"y":0.04},{"p":"PF₆","x":16.8,"y":0.03},{"p":"PF₆","x":17.6,"y":0.01},{"p":"PF₆","x":18.5,"y":-0.01},{"p":"PF₆","x":19.3,"y":-0.02},{"p":"PF₆","x":20,"y":-0.01},
{"p":"TFO","x":0,"y":0.05},{"p":"TFO","x":2.2,"y":0.05},{"p":"TFO","x":2.6,"y":0.0},{"p":"TFO","x":3.2,"y":-0.12},{"p":"TFO","x":3.5,"y":-0.05},{"p":"TFO","x":3.8,"y":0.15},{"p":"TFO","x":4.25,"y":0.29},{"p":"TFO","x":4.6,"y":0.18},{"p":"TFO","x":4.9,"y":-0.01},{"p":"TFO","x":5.3,"y":-0.15},{"p":"TFO","x":5.85,"y":-0.23},{"p":"TFO","x":6.4,"y":-0.15},{"p":"TFO","x":6.9,"y":-0.06},{"p":"TFO","x":7.5,"y":0.07},{"p":"TFO","x":8.05,"y":0.14},{"p":"TFO","x":8.5,"y":0.11},{"p":"TFO","x":9.1,"y":0.03},{"p":"TFO","x":9.8,"y":-0.05},{"p":"TFO","x":10.4,"y":-0.03},{"p":"TFO","x":11.3,"y":0},{"p":"TFO","x":12.5,"y":0},{"p":"TFO","x":13.7,"y":0},{"p":"TFO","x":15,"y":0.01},{"p":"TFO","x":16.5,"y":0.02},{"p":"TFO","x":17.5,"y":0.01},{"p":"TFO","x":18.5,"y":0},{"p":"TFO","x":20,"y":0},
{"p":"TFSI","x":0,"y":-0.1},{"p":"TFSI","x":2.2,"y":-0.1},{"p":"TFSI","x":2.6,"y":-0.12},{"p":"TFSI","x":3.1,"y":-0.17},{"p":"TFSI","x":3.4,"y":-0.05},{"p":"TFSI","x":3.7,"y":0.25},{"p":"TFSI","x":4.0,"y":0.46},{"p":"TFSI","x":4.25,"y":0.51},{"p":"TFSI","x":4.5,"y":0.43},{"p":"TFSI","x":4.9,"y":0.18},{"p":"TFSI","x":5.3,"y":-0.07},{"p":"TFSI","x":5.6,"y":-0.2},{"p":"TFSI","x":6.0,"y":-0.27},{"p":"TFSI","x":6.4,"y":-0.22},{"p":"TFSI","x":6.9,"y":-0.11},{"p":"TFSI","x":7.3,"y":-0.01},{"p":"TFSI","x":7.7,"y":0.06},{"p":"TFSI","x":8.1,"y":0.09},{"p":"TFSI","x":8.5,"y":0.1},{"p":"TFSI","x":9.0,"y":0.09},{"p":"TFSI","x":9.6,"y":0.06},{"p":"TFSI","x":10.4,"y":0.01},{"p":"TFSI","x":11.3,"y":0.01},{"p":"TFSI","x":12.4,"y":0.02},{"p":"TFSI","x":13.4,"y":0.0},{"p":"TFSI","x":14.3,"y":-0.015},{"p":"TFSI","x":15.2,"y":0},{"p":"TFSI","x":16,"y":0.02},{"p":"TFSI","x":16.8,"y":0.03},{"p":"TFSI","x":17.5,"y":0.02},{"p":"TFSI","x":18.5,"y":0.01},{"p":"TFSI","x":20,"y":0.01}
]
},
"hconcat": [
{
"vconcat": [
{"width": 238, "height": 81, "data": {"name": "a"}, "transform": [{"filter": "datum.p == 'SCN'"}],
 "layer": [
  {"mark": {"type": "line", "interpolate": "monotone", "strokeWidth": 1.8},
   "encoding": {
    "x": {"field": "x", "type": "quantitative", "scale": {"domain": [0, 20], "nice": false}, "axis": null},
    "y": {"field": "y", "type": "quantitative", "scale": {"domain": [0, 20], "nice": false}, "axis": {"orient": "left", "values": [0,2.5,5,7.5,10,12.5,15,17.5,20], "tickSize": -15, "labelPadding": 25, "labelFontSize": 17, "labelExpr": "datum.value % 5 === 0 ? datum.label : ''", "title": null}},
    "color": {"field": "k", "type": "nominal", "scale": {"domain": ["C₄MIM", "SCN"], "range": ["#1a1a1a", "#ff1f1f"]}, "legend": {"orient": "none", "legendX": 251, "legendY": 7, "padding": 0, "symbolSize": 400, "symbolStrokeWidth": 2.2, "labelFontSize": 22, "labelOffset": 3, "rowPadding": 20, "title": null}}
   }},
  {"mark": {"type": "point", "opacity": 0},
   "encoding": {
    "x": {"field": "x", "type": "quantitative", "axis": {"orient": "top", "values": [5,10,15], "labels": false, "tickSize": -15, "title": null}},
    "y": {"field": "y", "type": "quantitative", "axis": {"orient": "right", "values": [2.5,5,7.5,10,12.5,15,17.5], "labels": false, "tickSize": -15, "title": null}}
   }},
  {"data": {"values": [{}]}, "mark": {"type": "text", "text": "(a)", "fontSize": 40, "font": "Liberation Serif", "align": "left", "baseline": "middle", "color": "#111"},
   "encoding": {"x": {"datum": -7.56, "type": "quantitative", "axis": null}, "y": {"datum": 18.52, "type": "quantitative", "axis": null}}}
 ],
 "resolve": {"axis": {"x": "independent", "y": "independent"}}},
{"width": 238, "height": 81, "data": {"name": "a"}, "transform": [{"filter": "datum.p == 'BF₄'"}],
 "layer": [
  {"mark": {"type": "line", "interpolate": "monotone", "strokeWidth": 1.8},
   "encoding": {
    "x": {"field": "x", "type": "quantitative", "scale": {"domain": [0, 20], "nice": false}, "axis": null},
    "y": {"field": "y", "type": "quantitative", "scale": {"domain": [0, 20], "nice": false}, "axis": {"orient": "left", "values": [0,2.5,5,7.5,10,12.5,15,17.5,20], "tickSize": -15, "labelPadding": 25, "labelFontSize": 17, "labelExpr": "datum.value % 5 === 0 ? datum.label : ''", "title": null}},
    "color": {"field": "k", "type": "nominal", "scale": {"domain": ["C₄MIM", "BF₄"], "range": ["#1a1a1a", "#ff1f1f"]}, "legend": {"orient": "none", "legendX": 251, "legendY": 7, "padding": 0, "symbolSize": 400, "symbolStrokeWidth": 2.2, "labelFontSize": 22, "labelOffset": 3, "rowPadding": 20, "title": null}}
   }},
  {"mark": {"type": "point", "opacity": 0},
   "encoding": {
    "x": {"field": "x", "type": "quantitative", "axis": {"orient": "top", "values": [5,10,15], "labels": false, "tickSize": -15, "title": null}},
    "y": {"field": "y", "type": "quantitative", "axis": {"orient": "right", "values": [2.5,5,7.5,10,12.5,15,17.5], "labels": false, "tickSize": -15, "title": null}}
   }}
 ],
 "resolve": {"axis": {"x": "independent", "y": "independent"}}},
{"width": 238, "height": 81, "data": {"name": "a"}, "transform": [{"filter": "datum.p == 'DCA'"}],
 "layer": [
  {"mark": {"type": "line", "interpolate": "monotone", "strokeWidth": 1.8},
   "encoding": {
    "x": {"field": "x", "type": "quantitative", "scale": {"domain": [0, 20], "nice": false}, "axis": null},
    "y": {"field": "y", "type": "quantitative", "scale": {"domain": [0, 20], "nice": false}, "axis": {"orient": "left", "values": [0,2.5,5,7.5,10,12.5,15,17.5,20], "tickSize": -15, "labelPadding": 25, "labelFontSize": 17, "labelExpr": "datum.value % 5 === 0 ? datum.label : ''", "title": "ρN[nm⁻³]", "titleFontSize": 30, "titleX": -69, "titleY": 92, "titleAngle": -90, "titleBaseline": "bottom", "titleAlign": "center"}},
    "color": {"field": "k", "type": "nominal", "scale": {"domain": ["C₄MIM", "DCA"], "range": ["#1a1a1a", "#ff1f1f"]}, "legend": {"orient": "none", "legendX": 251, "legendY": 7, "padding": 0, "symbolSize": 400, "symbolStrokeWidth": 2.2, "labelFontSize": 22, "labelOffset": 3, "rowPadding": 20, "title": null}}
   }},
  {"mark": {"type": "point", "opacity": 0},
   "encoding": {
    "x": {"field": "x", "type": "quantitative", "axis": {"orient": "top", "values": [5,10,15], "labels": false, "tickSize": -15, "title": null}},
    "y": {"field": "y", "type": "quantitative", "axis": {"orient": "right", "values": [2.5,5,7.5,10,12.5,15,17.5], "labels": false, "tickSize": -15, "title": null}}
   }}
 ],
 "resolve": {"axis": {"x": "independent", "y": "independent"}}},
{"width": 238, "height": 81, "data": {"name": "a"}, "transform": [{"filter": "datum.p == 'PF₆'"}],
 "layer": [
  {"mark": {"type": "line", "interpolate": "monotone", "strokeWidth": 1.8},
   "encoding": {
    "x": {"field": "x", "type": "quantitative", "scale": {"domain": [0, 20], "nice": false}, "axis": null},
    "y": {"field": "y", "type": "quantitative", "scale": {"domain": [0, 20], "nice": false}, "axis": {"orient": "left", "values": [0,2.5,5,7.5,10,12.5,15,17.5,20], "tickSize": -15, "labelPadding": 25, "labelFontSize": 17, "labelExpr": "datum.value % 5 === 0 ? datum.label : ''", "title": null}},
    "color": {"field": "k", "type": "nominal", "scale": {"domain": ["C₄MIM", "PF₆"], "range": ["#1a1a1a", "#ff1f1f"]}, "legend": {"orient": "none", "legendX": 251, "legendY": 7, "padding": 0, "symbolSize": 400, "symbolStrokeWidth": 2.2, "labelFontSize": 22, "labelOffset": 3, "rowPadding": 20, "title": null}}
   }},
  {"mark": {"type": "point", "opacity": 0},
   "encoding": {
    "x": {"field": "x", "type": "quantitative", "axis": {"orient": "top", "values": [5,10,15], "labels": false, "tickSize": -15, "title": null}},
    "y": {"field": "y", "type": "quantitative", "axis": {"orient": "right", "values": [2.5,5,7.5,10,12.5,15,17.5], "labels": false, "tickSize": -15, "title": null}}
   }}
 ],
 "resolve": {"axis": {"x": "independent", "y": "independent"}}},
{"width": 238, "height": 81, "data": {"name": "a"}, "transform": [{"filter": "datum.p == 'TFO'"}],
 "layer": [
  {"mark": {"type": "line", "interpolate": "monotone", "strokeWidth": 1.8},
   "encoding": {
    "x": {"field": "x", "type": "quantitative", "scale": {"domain": [0, 20], "nice": false}, "axis": null},
    "y": {"field": "y", "type": "quantitative", "scale": {"domain": [0, 20], "nice": false}, "axis": {"orient": "left", "values": [0,2.5,5,7.5,10,12.5,15,17.5,20], "tickSize": -15, "labelPadding": 25, "labelFontSize": 17, "labelExpr": "datum.value % 5 === 0 ? datum.label : ''", "title": null}},
    "color": {"field": "k", "type": "nominal", "scale": {"domain": ["C₄MIM", "TFO"], "range": ["#1a1a1a", "#ff1f1f"]}, "legend": {"orient": "none", "legendX": 251, "legendY": 7, "padding": 0, "symbolSize": 400, "symbolStrokeWidth": 2.2, "labelFontSize": 22, "labelOffset": 3, "rowPadding": 20, "title": null}}
   }},
  {"mark": {"type": "point", "opacity": 0},
   "encoding": {
    "x": {"field": "x", "type": "quantitative", "axis": {"orient": "top", "values": [5,10,15], "labels": false, "tickSize": -15, "title": null}},
    "y": {"field": "y", "type": "quantitative", "axis": {"orient": "right", "values": [2.5,5,7.5,10,12.5,15,17.5], "labels": false, "tickSize": -15, "title": null}}
   }}
 ],
 "resolve": {"axis": {"x": "independent", "y": "independent"}}},
{"width": 238, "height": 81, "data": {"name": "a"}, "transform": [{"filter": "datum.p == 'TFSI'"}],
 "layer": [
  {"mark": {"type": "line", "interpolate": "monotone", "strokeWidth": 1.8},
   "encoding": {
    "x": {"field": "x", "type": "quantitative", "scale": {"domain": [0, 20], "nice": false}, "axis": {"orient": "bottom", "values": [0,5,10,15,20], "ticks": false, "labelPadding": 15, "labelFontSize": 18, "title": "Distance from Graphene [Å]", "titleFontSize": 30, "titlePadding": 12}},
    "y": {"field": "y", "type": "quantitative", "scale": {"domain": [0, 20], "nice": false}, "axis": {"orient": "left", "values": [0,2.5,5,7.5,10,12.5,15,17.5,20], "tickSize": -15, "labelPadding": 25, "labelFontSize": 17, "labelExpr": "datum.value % 5 === 0 ? datum.label : ''", "title": null}},
    "color": {"field": "k", "type": "nominal", "scale": {"domain": ["C₄MIM", "TFSI"], "range": ["#1a1a1a", "#ff1f1f"]}, "legend": {"orient": "none", "legendX": 251, "legendY": 7, "padding": 0, "symbolSize": 400, "symbolStrokeWidth": 2.2, "labelFontSize": 22, "labelOffset": 3, "rowPadding": 20, "title": null}}
   }},
  {"mark": {"type": "point", "opacity": 0},
   "encoding": {
    "x": {"field": "x", "type": "quantitative", "axis": {"orient": "top", "values": [5,10,15], "labels": false, "tickSize": -15, "title": null}},
    "y": {"field": "y", "type": "quantitative", "axis": {"orient": "right", "values": [2.5,5,7.5,10,12.5,15,17.5], "labels": false, "tickSize": -15, "title": null}}
   }}
 ],
 "resolve": {"axis": {"x": "independent", "y": "independent"}}}
],
"spacing": 17, "bounds": "flush",
"resolve": {"scale": {"color": "independent"}, "legend": {"color": "independent"}}
},
{
"hconcat": [
{
"vconcat": [
{"width": 235, "height": 81, "data": {"name": "q"}, "transform": [{"filter": "datum.p == 'SCN'"}],
 "layer": [
  {"mark": {"type": "line", "interpolate": "monotone", "strokeWidth": 1.6},
   "encoding": {
    "x": {"field": "x", "type": "quantitative", "scale": {"domain": [0, 20], "nice": false}, "axis": {"orient": "bottom", "values": [5,10,15], "labels": false, "tickSize": -15, "title": null}},
    "y": {"field": "y", "type": "quantitative", "scale": {"domain": [-20, 20], "nice": false}, "axis": {"orient": "left", "values": [-20,-15,-10,-5,0,5,10,15,20], "tickSize": -15, "labelPadding": 25, "labelFontSize": 17, "labelExpr": "datum.value % 10 === 0 ? '' + datum.value : ''", "title": null}},
    "color": {"field": "p", "type": "nominal", "scale": {"range": ["#1a1a1a"]}, "legend": {"orient": "none", "legendX": 241, "legendY": 29.5, "padding": 0, "symbolSize": 400, "symbolStrokeWidth": 2.2, "labelFontSize": 22, "labelOffset": 3, "title": null}}
   }},
  {"mark": {"type": "point", "opacity": 0},
   "encoding": {
    "x": {"field": "x", "type": "quantitative", "axis": {"orient": "top", "values": [5,10,15], "labels": false, "tickSize": -15, "title": null}},
    "y": {"field": "y", "type": "quantitative", "axis": {"orient": "right", "values": [-15,-10,-5,0,5,10,15], "labels": false, "tickSize": -15, "title": null}}
   }},
  {"data": {"values": [{}]}, "mark": {"type": "text", "text": "(b)", "fontSize": 40, "font": "Liberation Serif", "align": "left", "baseline": "middle", "color": "#111"},
   "encoding": {"x": {"datum": -8.85, "type": "quantitative", "axis": null}, "y": {"datum": 17.04, "type": "quantitative", "axis": null}}}
 ],
 "resolve": {"axis": {"x": "independent", "y": "independent"}}},
{"width": 235, "height": 81, "data": {"name": "q"}, "transform": [{"filter": "datum.p == 'BF₄'"}],
 "layer": [
  {"mark": {"type": "line", "interpolate": "monotone", "strokeWidth": 1.6},
   "encoding": {
    "x": {"field": "x", "type": "quantitative", "scale": {"domain": [0, 20], "nice": false}, "axis": {"orient": "bottom", "values": [5,10,15], "labels": false, "tickSize": -15, "title": null}},
    "y": {"field": "y", "type": "quantitative", "scale": {"domain": [-20, 20], "nice": false}, "axis": {"orient": "left", "values": [-20,-15,-10,-5,0,5,10,15,20], "tickSize": -15, "labelPadding": 25, "labelFontSize": 17, "labelExpr": "datum.value % 10 === 0 ? '' + datum.value : ''", "title": null}},
    "color": {"field": "p", "type": "nominal", "scale": {"range": ["#1a1a1a"]}, "legend": {"orient": "none", "legendX": 241, "legendY": 29.5, "padding": 0, "symbolSize": 400, "symbolStrokeWidth": 2.2, "labelFontSize": 22, "labelOffset": 3, "title": null}}
   }},
  {"mark": {"type": "point", "opacity": 0},
   "encoding": {
    "x": {"field": "x", "type": "quantitative", "axis": {"orient": "top", "values": [5,10,15], "labels": false, "tickSize": -15, "title": null}},
    "y": {"field": "y", "type": "quantitative", "axis": {"orient": "right", "values": [-15,-10,-5,0,5,10,15], "labels": false, "tickSize": -15, "title": null}}
   }}
 ],
 "resolve": {"axis": {"x": "independent", "y": "independent"}}},
{"width": 235, "height": 81, "data": {"name": "q"}, "transform": [{"filter": "datum.p == 'DCA'"}],
 "layer": [
  {"mark": {"type": "line", "interpolate": "monotone", "strokeWidth": 1.6},
   "encoding": {
    "x": {"field": "x", "type": "quantitative", "scale": {"domain": [0, 20], "nice": false}, "axis": {"orient": "bottom", "values": [5,10,15], "labels": false, "tickSize": -15, "title": null}},
    "y": {"field": "y", "type": "quantitative", "scale": {"domain": [-20, 20], "nice": false}, "axis": {"orient": "left", "values": [-20,-15,-10,-5,0,5,10,15,20], "tickSize": -15, "labelPadding": 25, "labelFontSize": 17, "labelExpr": "datum.value % 10 === 0 ? '' + datum.value : ''", "title": "ρq[10⁹cm⁻³]", "titleFontSize": 30, "titleX": -45, "titleY": 94, "titleAngle": -90, "titleBaseline": "bottom", "titleAlign": "center"}},
    "color": {"field": "p", "type": "nominal", "scale": {"range": ["#1a1a1a"]}, "legend": {"orient": "none", "legendX": 241, "legendY": 29.5, "padding": 0, "symbolSize": 400, "symbolStrokeWidth": 2.2, "labelFontSize": 22, "labelOffset": 3, "title": null}}
   }},
  {"mark": {"type": "point", "opacity": 0},
   "encoding": {
    "x": {"field": "x", "type": "quantitative", "axis": {"orient": "top", "values": [5,10,15], "labels": false, "tickSize": -15, "title": null}},
    "y": {"field": "y", "type": "quantitative", "axis": {"orient": "right", "values": [-15,-10,-5,0,5,10,15], "labels": false, "tickSize": -15, "title": null}}
   }}
 ],
 "resolve": {"axis": {"x": "independent", "y": "independent"}}},
{"width": 235, "height": 81, "data": {"name": "q"}, "transform": [{"filter": "datum.p == 'PF₆'"}],
 "layer": [
  {"mark": {"type": "line", "interpolate": "monotone", "strokeWidth": 1.6},
   "encoding": {
    "x": {"field": "x", "type": "quantitative", "scale": {"domain": [0, 20], "nice": false}, "axis": {"orient": "bottom", "values": [5,10,15], "labels": false, "tickSize": -15, "title": null}},
    "y": {"field": "y", "type": "quantitative", "scale": {"domain": [-20, 20], "nice": false}, "axis": {"orient": "left", "values": [-20,-15,-10,-5,0,5,10,15,20], "tickSize": -15, "labelPadding": 25, "labelFontSize": 17, "labelExpr": "datum.value % 10 === 0 ? '' + datum.value : ''", "title": null}},
    "color": {"field": "p", "type": "nominal", "scale": {"range": ["#1a1a1a"]}, "legend": {"orient": "none", "legendX": 241, "legendY": 29.5, "padding": 0, "symbolSize": 400, "symbolStrokeWidth": 2.2, "labelFontSize": 22, "labelOffset": 3, "title": null}}
   }},
  {"mark": {"type": "point", "opacity": 0},
   "encoding": {
    "x": {"field": "x", "type": "quantitative", "axis": {"orient": "top", "values": [5,10,15], "labels": false, "tickSize": -15, "title": null}},
    "y": {"field": "y", "type": "quantitative", "axis": {"orient": "right", "values": [-15,-10,-5,0,5,10,15], "labels": false, "tickSize": -15, "title": null}}
   }}
 ],
 "resolve": {"axis": {"x": "independent", "y": "independent"}}},
{"width": 235, "height": 81, "data": {"name": "q"}, "transform": [{"filter": "datum.p == 'TFO'"}],
 "layer": [
  {"mark": {"type": "line", "interpolate": "monotone", "strokeWidth": 1.6},
   "encoding": {
    "x": {"field": "x", "type": "quantitative", "scale": {"domain": [0, 20], "nice": false}, "axis": {"orient": "bottom", "values": [5,10,15], "labels": false, "tickSize": -15, "title": null}},
    "y": {"field": "y", "type": "quantitative", "scale": {"domain": [-20, 20], "nice": false}, "axis": {"orient": "left", "values": [-20,-15,-10,-5,0,5,10,15,20], "tickSize": -15, "labelPadding": 25, "labelFontSize": 17, "labelExpr": "datum.value % 10 === 0 ? '' + datum.value : ''", "title": null}},
    "color": {"field": "p", "type": "nominal", "scale": {"range": ["#1a1a1a"]}, "legend": {"orient": "none", "legendX": 241, "legendY": 29.5, "padding": 0, "symbolSize": 400, "symbolStrokeWidth": 2.2, "labelFontSize": 22, "labelOffset": 3, "title": null}}
   }},
  {"mark": {"type": "point", "opacity": 0},
   "encoding": {
    "x": {"field": "x", "type": "quantitative", "axis": {"orient": "top", "values": [5,10,15], "labels": false, "tickSize": -15, "title": null}},
    "y": {"field": "y", "type": "quantitative", "axis": {"orient": "right", "values": [-15,-10,-5,0,5,10,15], "labels": false, "tickSize": -15, "title": null}}
   }}
 ],
 "resolve": {"axis": {"x": "independent", "y": "independent"}}},
{"width": 235, "height": 81, "data": {"name": "q"}, "transform": [{"filter": "datum.p == 'TFSI'"}],
 "layer": [
  {"mark": {"type": "line", "interpolate": "monotone", "strokeWidth": 1.6},
   "encoding": {
    "x": {"field": "x", "type": "quantitative", "scale": {"domain": [0, 20], "nice": false}, "axis": {"orient": "bottom", "values": [0,5,10,15,20], "tickSize": -15, "labelPadding": 29, "labelFontSize": 18, "title": "Distance from Graphene [Å]", "titleFontSize": 30, "titlePadding": 12}},
    "y": {"field": "y", "type": "quantitative", "scale": {"domain": [-20, 20], "nice": false}, "axis": {"orient": "left", "values": [-20,-15,-10,-5,0,5,10,15,20], "tickSize": -15, "labelPadding": 25, "labelFontSize": 17, "labelExpr": "datum.value % 10 === 0 ? '' + datum.value : ''", "title": null}},
    "color": {"field": "p", "type": "nominal", "scale": {"range": ["#1a1a1a"]}, "legend": {"orient": "none", "legendX": 241, "legendY": 29.5, "padding": 0, "symbolSize": 400, "symbolStrokeWidth": 2.2, "labelFontSize": 22, "labelOffset": 3, "title": null}}
   }},
  {"mark": {"type": "point", "opacity": 0},
   "encoding": {
    "x": {"field": "x", "type": "quantitative", "axis": {"orient": "top", "values": [5,10,15], "labels": false, "tickSize": -15, "title": null}},
    "y": {"field": "y", "type": "quantitative", "axis": {"orient": "right", "values": [-15,-10,-5,0,5,10,15], "labels": false, "tickSize": -15, "title": null}}
   }}
 ],
 "resolve": {"axis": {"x": "independent", "y": "independent"}}}
],
"spacing": 16.5, "bounds": "flush",
"resolve": {"scale": {"color": "independent"}, "legend": {"color": "independent"}}
},
{
"vconcat": [
{"width": 241, "height": 82, "data": {"name": "v"}, "transform": [{"filter": "datum.p == 'SCN'"}],
 "layer": [
  {"mark": {"type": "line", "interpolate": "monotone", "strokeWidth": 1.5},
   "encoding": {
    "x": {"field": "x", "type": "quantitative", "scale": {"domain": [0, 20], "nice": false}, "axis": {"orient": "bottom", "values": [5,10,15], "labels": false, "tickSize": -14, "title": null}},
    "y": {"field": "y", "type": "quantitative", "scale": {"domain": [-0.6, 0.6], "nice": false}, "axis": {"orient": "left", "values": [-0.5,-0.375,-0.25,-0.125,0,0.125,0.25,0.375,0.5], "tickSize": -15, "labelPadding": 22, "labelFontSize": 16, "labelExpr": "(datum.value * 4) % 1 === 0 ? '' + datum.value : ''", "title": null}},
    "color": {"field": "p", "type": "nominal", "scale": {"range": ["#1a1a1a"]}, "legend": {"orient": "none", "legendX": 120, "legendY": 0, "padding": 4, "strokeColor": "#1a1a1a", "fillColor": "#ffffff", "symbolSize": 1024, "symbolStrokeWidth": 1.5, "labelFontSize": 16.5, "labelOffset": 17, "title": null}}
   }},
  {"mark": {"type": "point", "opacity": 0},
   "encoding": {
    "x": {"field": "x", "type": "quantitative", "axis": {"orient": "top", "values": [5,10,15], "labels": false, "tickSize": -8, "title": null}},
    "y": {"field": "y", "type": "quantitative", "axis": {"orient": "right", "values": [-0.5,-0.375,-0.25,-0.125,0,0.125,0.25,0.375,0.5], "labels": false, "tickSize": -15, "title": null}}
   }},
  {"data": {"values": [{}]}, "mark": {"type": "text", "text": "(c)", "fontSize": 40, "font": "Liberation Serif", "align": "left", "baseline": "middle", "color": "#111"},
   "encoding": {"x": {"datum": -8.05, "type": "quantitative", "axis": null}, "y": {"datum": 0.512, "type": "quantitative", "axis": null}}}
 ],
 "resolve": {"axis": {"x": "independent", "y": "independent"}}},
{"width": 241, "height": 82, "data": {"name": "v"}, "transform": [{"filter": "datum.p == 'BF₄'"}],
 "layer": [
  {"mark": {"type": "line", "interpolate": "monotone", "strokeWidth": 1.5},
   "encoding": {
    "x": {"field": "x", "type": "quantitative", "scale": {"domain": [0, 20], "nice": false}, "axis": {"orient": "bottom", "values": [5,10,15], "labels": false, "tickSize": -14, "title": null}},
    "y": {"field": "y", "type": "quantitative", "scale": {"domain": [-0.6, 0.6], "nice": false}, "axis": {"orient": "left", "values": [-0.5,-0.375,-0.25,-0.125,0,0.125,0.25,0.375,0.5], "tickSize": -15, "labelPadding": 22, "labelFontSize": 16, "labelExpr": "(datum.value * 4) % 1 === 0 ? '' + datum.value : ''", "title": null}},
    "color": {"field": "p", "type": "nominal", "scale": {"range": ["#1a1a1a"]}, "legend": {"orient": "none", "legendX": 120, "legendY": 0, "padding": 4, "strokeColor": "#1a1a1a", "fillColor": "#ffffff", "symbolSize": 1024, "symbolStrokeWidth": 1.5, "labelFontSize": 16.5, "labelOffset": 17, "title": null}}
   }},
  {"mark": {"type": "point", "opacity": 0},
   "encoding": {
    "x": {"field": "x", "type": "quantitative", "axis": {"orient": "top", "values": [5,10,15], "labels": false, "tickSize": -8, "title": null}},
    "y": {"field": "y", "type": "quantitative", "axis": {"orient": "right", "values": [-0.5,-0.375,-0.25,-0.125,0,0.125,0.25,0.375,0.5], "labels": false, "tickSize": -15, "title": null}}
   }}
 ],
 "resolve": {"axis": {"x": "independent", "y": "independent"}}},
{"width": 241, "height": 82, "data": {"name": "v"}, "transform": [{"filter": "datum.p == 'DCA'"}],
 "layer": [
  {"mark": {"type": "line", "interpolate": "monotone", "strokeWidth": 1.5},
   "encoding": {
    "x": {"field": "x", "type": "quantitative", "scale": {"domain": [0, 20], "nice": false}, "axis": {"orient": "bottom", "values": [5,10,15], "labels": false, "tickSize": -14, "title": null}},
    "y": {"field": "y", "type": "quantitative", "scale": {"domain": [-0.6, 0.6], "nice": false}, "axis": {"orient": "left", "values": [-0.5,-0.375,-0.25,-0.125,0,0.125,0.25,0.375,0.5], "tickSize": -15, "labelPadding": 22, "labelFontSize": 16, "labelExpr": "(datum.value * 4) % 1 === 0 ? '' + datum.value : ''", "title": "Potential [V]", "titleFontSize": 32, "titleX": -62, "titleY": 85, "titleAngle": -90, "titleBaseline": "bottom", "titleAlign": "center"}},
    "color": {"field": "p", "type": "nominal", "scale": {"range": ["#1a1a1a"]}, "legend": {"orient": "none", "legendX": 120, "legendY": 0, "padding": 4, "strokeColor": "#1a1a1a", "fillColor": "#ffffff", "symbolSize": 1024, "symbolStrokeWidth": 1.5, "labelFontSize": 16.5, "labelOffset": 17, "title": null}}
   }},
  {"mark": {"type": "point", "opacity": 0},
   "encoding": {
    "x": {"field": "x", "type": "quantitative", "axis": {"orient": "top", "values": [5,10,15], "labels": false, "tickSize": -8, "title": null}},
    "y": {"field": "y", "type": "quantitative", "axis": {"orient": "right", "values": [-0.5,-0.375,-0.25,-0.125,0,0.125,0.25,0.375,0.5], "labels": false, "tickSize": -15, "title": null}}
   }}
 ],
 "resolve": {"axis": {"x": "independent", "y": "independent"}}},
{"width": 241, "height": 82, "data": {"name": "v"}, "transform": [{"filter": "datum.p == 'PF₆'"}],
 "layer": [
  {"mark": {"type": "line", "interpolate": "monotone", "strokeWidth": 1.5},
   "encoding": {
    "x": {"field": "x", "type": "quantitative", "scale": {"domain": [0, 20], "nice": false}, "axis": {"orient": "bottom", "values": [5,10,15], "labels": false, "tickSize": -14, "title": null}},
    "y": {"field": "y", "type": "quantitative", "scale": {"domain": [-0.6, 0.6], "nice": false}, "axis": {"orient": "left", "values": [-0.5,-0.375,-0.25,-0.125,0,0.125,0.25,0.375,0.5], "tickSize": -15, "labelPadding": 22, "labelFontSize": 16, "labelExpr": "(datum.value * 4) % 1 === 0 ? '' + datum.value : ''", "title": null}},
    "color": {"field": "p", "type": "nominal", "scale": {"range": ["#1a1a1a"]}, "legend": {"orient": "none", "legendX": 120, "legendY": 0, "padding": 4, "strokeColor": "#1a1a1a", "fillColor": "#ffffff", "symbolSize": 1024, "symbolStrokeWidth": 1.5, "labelFontSize": 16.5, "labelOffset": 17, "title": null}}
   }},
  {"mark": {"type": "point", "opacity": 0},
   "encoding": {
    "x": {"field": "x", "type": "quantitative", "axis": {"orient": "top", "values": [5,10,15], "labels": false, "tickSize": -8, "title": null}},
    "y": {"field": "y", "type": "quantitative", "axis": {"orient": "right", "values": [-0.5,-0.375,-0.25,-0.125,0,0.125,0.25,0.375,0.5], "labels": false, "tickSize": -15, "title": null}}
   }}
 ],
 "resolve": {"axis": {"x": "independent", "y": "independent"}}},
{"width": 241, "height": 82, "data": {"name": "v"}, "transform": [{"filter": "datum.p == 'TFO'"}],
 "layer": [
  {"mark": {"type": "line", "interpolate": "monotone", "strokeWidth": 1.5},
   "encoding": {
    "x": {"field": "x", "type": "quantitative", "scale": {"domain": [0, 20], "nice": false}, "axis": {"orient": "bottom", "values": [5,10,15], "labels": false, "tickSize": -14, "title": null}},
    "y": {"field": "y", "type": "quantitative", "scale": {"domain": [-0.6, 0.6], "nice": false}, "axis": {"orient": "left", "values": [-0.5,-0.375,-0.25,-0.125,0,0.125,0.25,0.375,0.5], "tickSize": -15, "labelPadding": 22, "labelFontSize": 16, "labelExpr": "(datum.value * 4) % 1 === 0 ? '' + datum.value : ''", "title": null}},
    "color": {"field": "p", "type": "nominal", "scale": {"range": ["#1a1a1a"]}, "legend": {"orient": "none", "legendX": 120, "legendY": 0, "padding": 4, "strokeColor": "#1a1a1a", "fillColor": "#ffffff", "symbolSize": 1024, "symbolStrokeWidth": 1.5, "labelFontSize": 16.5, "labelOffset": 17, "title": null}}
   }},
  {"mark": {"type": "point", "opacity": 0},
   "encoding": {
    "x": {"field": "x", "type": "quantitative", "axis": {"orient": "top", "values": [5,10,15], "labels": false, "tickSize": -8, "title": null}},
    "y": {"field": "y", "type": "quantitative", "axis": {"orient": "right", "values": [-0.5,-0.375,-0.25,-0.125,0,0.125,0.25,0.375,0.5], "labels": false, "tickSize": -15, "title": null}}
   }}
 ],
 "resolve": {"axis": {"x": "independent", "y": "independent"}}},
{"width": 241, "height": 82, "data": {"name": "v"}, "transform": [{"filter": "datum.p == 'TFSI'"}],
 "layer": [
  {"mark": {"type": "line", "interpolate": "monotone", "strokeWidth": 1.5},
   "encoding": {
    "x": {"field": "x", "type": "quantitative", "scale": {"domain": [0, 20], "nice": false}, "axis": {"orient": "bottom", "values": [0,5,10,15,20], "tickSize": -14, "labelPadding": 23, "labelFontSize": 18, "title": "Distance from Graphene [Å]", "titleFontSize": 30, "titlePadding": 12}},
    "y": {"field": "y", "type": "quantitative", "scale": {"domain": [-0.6, 0.6], "nice": false}, "axis": {"orient": "left", "values": [-0.5,-0.375,-0.25,-0.125,0,0.125,0.25,0.375,0.5], "tickSize": -15, "labelPadding": 22, "labelFontSize": 16, "labelExpr": "(datum.value * 4) % 1 === 0 ? '' + datum.value : ''", "title": null}},
    "color": {"field": "p", "type": "nominal", "scale": {"range": ["#1a1a1a"]}, "legend": {"orient": "none", "legendX": 120, "legendY": 0, "padding": 4, "strokeColor": "#1a1a1a", "fillColor": "#ffffff", "symbolSize": 1024, "symbolStrokeWidth": 1.5, "labelFontSize": 16.5, "labelOffset": 17, "title": null}}
   }},
  {"mark": {"type": "point", "opacity": 0},
   "encoding": {
    "x": {"field": "x", "type": "quantitative", "axis": {"orient": "top", "values": [5,10,15], "labels": false, "tickSize": -8, "title": null}},
    "y": {"field": "y", "type": "quantitative", "axis": {"orient": "right", "values": [-0.5,-0.375,-0.25,-0.125,0,0.125,0.25,0.375,0.5], "labels": false, "tickSize": -15, "title": null}}
   }}
 ],
 "resolve": {"axis": {"x": "independent", "y": "independent"}}}
],
"spacing": 17, "bounds": "flush",
"resolve": {"scale": {"color": "independent"}, "legend": {"color": "independent"}}
}
],
"spacing": 40,
"resolve": {"scale": {"color": "independent"}, "legend": {"color": "independent"}}
}
],
"spacing": 42,
"resolve": {"scale": {"color": "independent"}, "legend": {"color": "independent"}},
"config": {
  "font": "Liberation Serif",
  "view": {"stroke": "#1a1a1a", "strokeWidth": 1.6},
  "axis": {"domain": false, "grid": false, "tickColor": "#1a1a1a", "tickWidth": 1.5, "labelFont": "Liberation Serif", "labelColor": "#111111", "titleFont": "Liberation Serif", "titleColor": "#111111", "titleFontWeight": "normal", "labelOverlap": false, "labelFlush": false, "labelBound": false},
  "legend": {"labelFont": "Liberation Serif", "labelColor": "#111111", "symbolType": "stroke"}
}
}
